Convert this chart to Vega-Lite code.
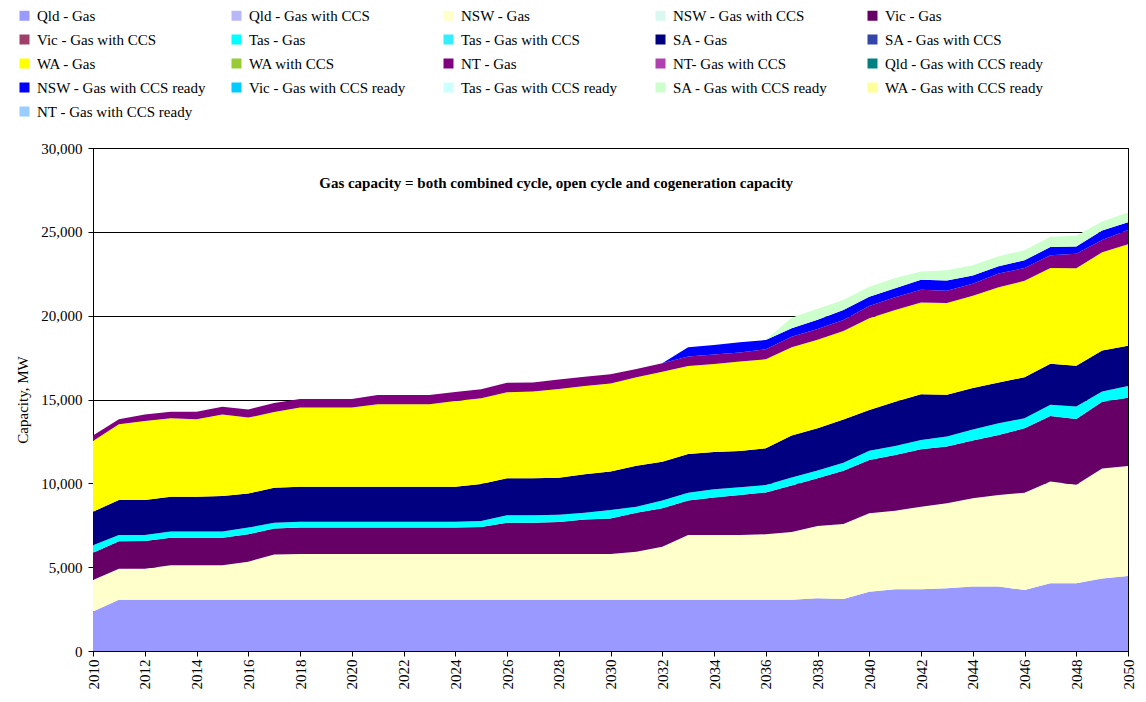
{
"$schema": "https://vega.github.io/schema/vega-lite/v6.json",
"width": 1035, "height": 503,
"autosize": "none",
"padding": {"left": 93, "top": 148, "right": 18, "bottom": 51},
"background": "white",
"config": {"font": "Liberation Serif", "view": {"stroke": "#000", "strokeWidth": 1}},
"datasets": {"cap": [
{"year":2010,"s":"Qld - Gas","mw":2350},{"year":2010,"s":"NSW - Gas","mw":1880},{"year":2010,"s":"Vic - Gas","mw":1630},{"year":2010,"s":"Tas - Gas","mw":440},{"year":2010,"s":"SA - Gas","mw":2010},{"year":2010,"s":"WA - Gas","mw":4210},{"year":2010,"s":"NT - Gas","mw":330},
{"year":2011,"s":"Qld - Gas","mw":3050},{"year":2011,"s":"NSW - Gas","mw":1860},{"year":2011,"s":"Vic - Gas","mw":1630},{"year":2011,"s":"Tas - Gas","mw":380},{"year":2011,"s":"SA - Gas","mw":2090},{"year":2011,"s":"WA - Gas","mw":4510},{"year":2011,"s":"NT - Gas","mw":300},
{"year":2012,"s":"Qld - Gas","mw":3050},{"year":2012,"s":"NSW - Gas","mw":1860},{"year":2012,"s":"Vic - Gas","mw":1650},{"year":2012,"s":"Tas - Gas","mw":360},{"year":2012,"s":"SA - Gas","mw":2090},{"year":2012,"s":"WA - Gas","mw":4710},{"year":2012,"s":"NT - Gas","mw":390},
{"year":2013,"s":"Qld - Gas","mw":3050},{"year":2013,"s":"NSW - Gas","mw":2060},{"year":2013,"s":"Vic - Gas","mw":1650},{"year":2013,"s":"Tas - Gas","mw":360},{"year":2013,"s":"SA - Gas","mw":2080},{"year":2013,"s":"WA - Gas","mw":4680},{"year":2013,"s":"NT - Gas","mw":390},
{"year":2014,"s":"Qld - Gas","mw":3050},{"year":2014,"s":"NSW - Gas","mw":2060},{"year":2014,"s":"Vic - Gas","mw":1650},{"year":2014,"s":"Tas - Gas","mw":360},{"year":2014,"s":"SA - Gas","mw":2080},{"year":2014,"s":"WA - Gas","mw":4620},{"year":2014,"s":"NT - Gas","mw":450},
{"year":2015,"s":"Qld - Gas","mw":3050},{"year":2015,"s":"NSW - Gas","mw":2060},{"year":2015,"s":"Vic - Gas","mw":1650},{"year":2015,"s":"Tas - Gas","mw":360},{"year":2015,"s":"SA - Gas","mw":2120},{"year":2015,"s":"WA - Gas","mw":4870},{"year":2015,"s":"NT - Gas","mw":460},
{"year":2016,"s":"Qld - Gas","mw":3050},{"year":2016,"s":"NSW - Gas","mw":2280},{"year":2016,"s":"Vic - Gas","mw":1630},{"year":2016,"s":"Tas - Gas","mw":400},{"year":2016,"s":"SA - Gas","mw":2040},{"year":2016,"s":"WA - Gas","mw":4520},{"year":2016,"s":"NT - Gas","mw":490},
{"year":2017,"s":"Qld - Gas","mw":3050},{"year":2017,"s":"NSW - Gas","mw":2700},{"year":2017,"s":"Vic - Gas","mw":1550},{"year":2017,"s":"Tas - Gas","mw":350},{"year":2017,"s":"SA - Gas","mw":2090},{"year":2017,"s":"WA - Gas","mw":4510},{"year":2017,"s":"NT - Gas","mw":540},
{"year":2018,"s":"Qld - Gas","mw":3050},{"year":2018,"s":"NSW - Gas","mw":2730},{"year":2018,"s":"Vic - Gas","mw":1580},{"year":2018,"s":"Tas - Gas","mw":350},{"year":2018,"s":"SA - Gas","mw":2090},{"year":2018,"s":"WA - Gas","mw":4730},{"year":2018,"s":"NT - Gas","mw":500},
{"year":2019,"s":"Qld - Gas","mw":3050},{"year":2019,"s":"NSW - Gas","mw":2730},{"year":2019,"s":"Vic - Gas","mw":1580},{"year":2019,"s":"Tas - Gas","mw":350},{"year":2019,"s":"SA - Gas","mw":2090},{"year":2019,"s":"WA - Gas","mw":4730},{"year":2019,"s":"NT - Gas","mw":500},
{"year":2020,"s":"Qld - Gas","mw":3050},{"year":2020,"s":"NSW - Gas","mw":2730},{"year":2020,"s":"Vic - Gas","mw":1580},{"year":2020,"s":"Tas - Gas","mw":350},{"year":2020,"s":"SA - Gas","mw":2090},{"year":2020,"s":"WA - Gas","mw":4730},{"year":2020,"s":"NT - Gas","mw":500},
{"year":2021,"s":"Qld - Gas","mw":3050},{"year":2021,"s":"NSW - Gas","mw":2730},{"year":2021,"s":"Vic - Gas","mw":1580},{"year":2021,"s":"Tas - Gas","mw":350},{"year":2021,"s":"SA - Gas","mw":2090},{"year":2021,"s":"WA - Gas","mw":4910},{"year":2021,"s":"NT - Gas","mw":560},
{"year":2022,"s":"Qld - Gas","mw":3050},{"year":2022,"s":"NSW - Gas","mw":2730},{"year":2022,"s":"Vic - Gas","mw":1580},{"year":2022,"s":"Tas - Gas","mw":350},{"year":2022,"s":"SA - Gas","mw":2090},{"year":2022,"s":"WA - Gas","mw":4910},{"year":2022,"s":"NT - Gas","mw":560},
{"year":2023,"s":"Qld - Gas","mw":3050},{"year":2023,"s":"NSW - Gas","mw":2730},{"year":2023,"s":"Vic - Gas","mw":1580},{"year":2023,"s":"Tas - Gas","mw":350},{"year":2023,"s":"SA - Gas","mw":2090},{"year":2023,"s":"WA - Gas","mw":4910},{"year":2023,"s":"NT - Gas","mw":560},
{"year":2024,"s":"Qld - Gas","mw":3050},{"year":2024,"s":"NSW - Gas","mw":2730},{"year":2024,"s":"Vic - Gas","mw":1580},{"year":2024,"s":"Tas - Gas","mw":350},{"year":2024,"s":"SA - Gas","mw":2090},{"year":2024,"s":"WA - Gas","mw":5110},{"year":2024,"s":"NT - Gas","mw":540},
{"year":2025,"s":"Qld - Gas","mw":3050},{"year":2025,"s":"NSW - Gas","mw":2730},{"year":2025,"s":"Vic - Gas","mw":1620},{"year":2025,"s":"Tas - Gas","mw":350},{"year":2025,"s":"SA - Gas","mw":2210},{"year":2025,"s":"WA - Gas","mw":5110},{"year":2025,"s":"NT - Gas","mw":540},
{"year":2026,"s":"Qld - Gas","mw":3050},{"year":2026,"s":"NSW - Gas","mw":2730},{"year":2026,"s":"Vic - Gas","mw":1870},{"year":2026,"s":"Tas - Gas","mw":440},{"year":2026,"s":"SA - Gas","mw":2210},{"year":2026,"s":"WA - Gas","mw":5130},{"year":2026,"s":"NT - Gas","mw":570},
{"year":2027,"s":"Qld - Gas","mw":3050},{"year":2027,"s":"NSW - Gas","mw":2730},{"year":2027,"s":"Vic - Gas","mw":1870},{"year":2027,"s":"Tas - Gas","mw":440},{"year":2027,"s":"SA - Gas","mw":2210},{"year":2027,"s":"WA - Gas","mw":5170},{"year":2027,"s":"NT - Gas","mw":550},
{"year":2028,"s":"Qld - Gas","mw":3050},{"year":2028,"s":"NSW - Gas","mw":2730},{"year":2028,"s":"Vic - Gas","mw":1920},{"year":2028,"s":"Tas - Gas","mw":430},{"year":2028,"s":"SA - Gas","mw":2210},{"year":2028,"s":"WA - Gas","mw":5290},{"year":2028,"s":"NT - Gas","mw":570},
{"year":2029,"s":"Qld - Gas","mw":3050},{"year":2029,"s":"NSW - Gas","mw":2730},{"year":2029,"s":"Vic - Gas","mw":2070},{"year":2029,"s":"Tas - Gas","mw":400},{"year":2029,"s":"SA - Gas","mw":2290},{"year":2029,"s":"WA - Gas","mw":5260},{"year":2029,"s":"NT - Gas","mw":560},
{"year":2030,"s":"Qld - Gas","mw":3050},{"year":2030,"s":"NSW - Gas","mw":2730},{"year":2030,"s":"Vic - Gas","mw":2130},{"year":2030,"s":"Tas - Gas","mw":500},{"year":2030,"s":"SA - Gas","mw":2290},{"year":2030,"s":"WA - Gas","mw":5260},{"year":2030,"s":"NT - Gas","mw":540},
{"year":2031,"s":"Qld - Gas","mw":3050},{"year":2031,"s":"NSW - Gas","mw":2870},{"year":2031,"s":"Vic - Gas","mw":2330},{"year":2031,"s":"Tas - Gas","mw":360},{"year":2031,"s":"SA - Gas","mw":2440},{"year":2031,"s":"WA - Gas","mw":5270},{"year":2031,"s":"NT - Gas","mw":500},
{"year":2032,"s":"Qld - Gas","mw":3050},{"year":2032,"s":"NSW - Gas","mw":3170},{"year":2032,"s":"Vic - Gas","mw":2290},{"year":2032,"s":"Tas - Gas","mw":460},{"year":2032,"s":"SA - Gas","mw":2320},{"year":2032,"s":"WA - Gas","mw":5370},{"year":2032,"s":"NT - Gas","mw":500},{"year":2032,"s":"NSW - Gas with CCS ready","mw":0},
{"year":2033,"s":"Qld - Gas","mw":3050},{"year":2033,"s":"NSW - Gas","mw":3870},{"year":2033,"s":"Vic - Gas","mw":2050},{"year":2033,"s":"Tas - Gas","mw":470},{"year":2033,"s":"SA - Gas","mw":2310},{"year":2033,"s":"WA - Gas","mw":5250},{"year":2033,"s":"NT - Gas","mw":560},{"year":2033,"s":"NSW - Gas with CCS ready","mw":550},
{"year":2034,"s":"Qld - Gas","mw":3050},{"year":2034,"s":"NSW - Gas","mw":3870},{"year":2034,"s":"Vic - Gas","mw":2230},{"year":2034,"s":"Tas - Gas","mw":490},{"year":2034,"s":"SA - Gas","mw":2230},{"year":2034,"s":"WA - Gas","mw":5250},{"year":2034,"s":"NT - Gas","mw":570},{"year":2034,"s":"NSW - Gas with CCS ready","mw":560},
{"year":2035,"s":"Qld - Gas","mw":3050},{"year":2035,"s":"NSW - Gas","mw":3870},{"year":2035,"s":"Vic - Gas","mw":2380},{"year":2035,"s":"Tas - Gas","mw":460},{"year":2035,"s":"SA - Gas","mw":2170},{"year":2035,"s":"WA - Gas","mw":5330},{"year":2035,"s":"NT - Gas","mw":550},{"year":2035,"s":"NSW - Gas with CCS ready","mw":600},
{"year":2036,"s":"Qld - Gas","mw":3050},{"year":2036,"s":"NSW - Gas","mw":3910},{"year":2036,"s":"Vic - Gas","mw":2500},{"year":2036,"s":"Tas - Gas","mw":440},{"year":2036,"s":"SA - Gas","mw":2190},{"year":2036,"s":"WA - Gas","mw":5310},{"year":2036,"s":"NT - Gas","mw":590},{"year":2036,"s":"NSW - Gas with CCS ready","mw":560},{"year":2036,"s":"SA - Gas with CCS ready","mw":0},
{"year":2037,"s":"Qld - Gas","mw":3050},{"year":2037,"s":"NSW - Gas","mw":4040},{"year":2037,"s":"Vic - Gas","mw":2780},{"year":2037,"s":"Tas - Gas","mw":480},{"year":2037,"s":"SA - Gas","mw":2500},{"year":2037,"s":"WA - Gas","mw":5270},{"year":2037,"s":"NT - Gas","mw":630},{"year":2037,"s":"NSW - Gas with CCS ready","mw":500},{"year":2037,"s":"SA - Gas with CCS ready","mw":620},
{"year":2038,"s":"Qld - Gas","mw":3140},{"year":2038,"s":"NSW - Gas","mw":4320},{"year":2038,"s":"Vic - Gas","mw":2850},{"year":2038,"s":"Tas - Gas","mw":460},{"year":2038,"s":"SA - Gas","mw":2520},{"year":2038,"s":"WA - Gas","mw":5270},{"year":2038,"s":"NT - Gas","mw":640},{"year":2038,"s":"NSW - Gas with CCS ready","mw":560},{"year":2038,"s":"SA - Gas with CCS ready","mw":650},
{"year":2039,"s":"Qld - Gas","mw":3100},{"year":2039,"s":"NSW - Gas","mw":4470},{"year":2039,"s":"Vic - Gas","mw":3180},{"year":2039,"s":"Tas - Gas","mw":480},{"year":2039,"s":"SA - Gas","mw":2580},{"year":2039,"s":"WA - Gas","mw":5270},{"year":2039,"s":"NT - Gas","mw":660},{"year":2039,"s":"NSW - Gas with CCS ready","mw":600},{"year":2039,"s":"SA - Gas with CCS ready","mw":600},
{"year":2040,"s":"Qld - Gas","mw":3540},{"year":2040,"s":"NSW - Gas","mw":4670},{"year":2040,"s":"Vic - Gas","mw":3180},{"year":2040,"s":"Tas - Gas","mw":560},{"year":2040,"s":"SA - Gas","mw":2420},{"year":2040,"s":"WA - Gas","mw":5470},{"year":2040,"s":"NT - Gas","mw":730},{"year":2040,"s":"NSW - Gas with CCS ready","mw":560},{"year":2040,"s":"SA - Gas with CCS ready","mw":600},
{"year":2041,"s":"Qld - Gas","mw":3680},{"year":2041,"s":"NSW - Gas","mw":4690},{"year":2041,"s":"Vic - Gas","mw":3320},{"year":2041,"s":"Tas - Gas","mw":540},{"year":2041,"s":"SA - Gas","mw":2640},{"year":2041,"s":"WA - Gas","mw":5470},{"year":2041,"s":"NT - Gas","mw":760},{"year":2041,"s":"NSW - Gas with CCS ready","mw":540},{"year":2041,"s":"SA - Gas with CCS ready","mw":600},
{"year":2042,"s":"Qld - Gas","mw":3680},{"year":2042,"s":"NSW - Gas","mw":4930},{"year":2042,"s":"Vic - Gas","mw":3420},{"year":2042,"s":"Tas - Gas","mw":560},{"year":2042,"s":"SA - Gas","mw":2720},{"year":2042,"s":"WA - Gas","mw":5470},{"year":2042,"s":"NT - Gas","mw":760},{"year":2042,"s":"NSW - Gas with CCS ready","mw":600},{"year":2042,"s":"SA - Gas with CCS ready","mw":500},
{"year":2043,"s":"Qld - Gas","mw":3740},{"year":2043,"s":"NSW - Gas","mw":5070},{"year":2043,"s":"Vic - Gas","mw":3380},{"year":2043,"s":"Tas - Gas","mw":600},{"year":2043,"s":"SA - Gas","mw":2490},{"year":2043,"s":"WA - Gas","mw":5470},{"year":2043,"s":"NT - Gas","mw":740},{"year":2043,"s":"NSW - Gas with CCS ready","mw":600},{"year":2043,"s":"SA - Gas with CCS ready","mw":620},
{"year":2044,"s":"Qld - Gas","mw":3840},{"year":2044,"s":"NSW - Gas","mw":5270},{"year":2044,"s":"Vic - Gas","mw":3440},{"year":2044,"s":"Tas - Gas","mw":660},{"year":2044,"s":"SA - Gas","mw":2470},{"year":2044,"s":"WA - Gas","mw":5510},{"year":2044,"s":"NT - Gas","mw":720},{"year":2044,"s":"NSW - Gas with CCS ready","mw":490},{"year":2044,"s":"SA - Gas with CCS ready","mw":610},
{"year":2045,"s":"Qld - Gas","mw":3840},{"year":2045,"s":"NSW - Gas","mw":5470},{"year":2045,"s":"Vic - Gas","mw":3580},{"year":2045,"s":"Tas - Gas","mw":700},{"year":2045,"s":"SA - Gas","mw":2430},{"year":2045,"s":"WA - Gas","mw":5670},{"year":2045,"s":"NT - Gas","mw":820},{"year":2045,"s":"NSW - Gas with CCS ready","mw":440},{"year":2045,"s":"SA - Gas with CCS ready","mw":600},
{"year":2046,"s":"Qld - Gas","mw":3640},{"year":2046,"s":"NSW - Gas","mw":5800},{"year":2046,"s":"Vic - Gas","mw":3840},{"year":2046,"s":"Tas - Gas","mw":600},{"year":2046,"s":"SA - Gas","mw":2450},{"year":2046,"s":"WA - Gas","mw":5750},{"year":2046,"s":"NT - Gas","mw":760},{"year":2046,"s":"NSW - Gas with CCS ready","mw":460},{"year":2046,"s":"SA - Gas with CCS ready","mw":600},
{"year":2047,"s":"Qld - Gas","mw":4040},{"year":2047,"s":"NSW - Gas","mw":6070},{"year":2047,"s":"Vic - Gas","mw":3910},{"year":2047,"s":"Tas - Gas","mw":660},{"year":2047,"s":"SA - Gas","mw":2450},{"year":2047,"s":"WA - Gas","mw":5710},{"year":2047,"s":"NT - Gas","mw":760},{"year":2047,"s":"NSW - Gas with CCS ready","mw":500},{"year":2047,"s":"SA - Gas with CCS ready","mw":600},
{"year":2048,"s":"Qld - Gas","mw":4040},{"year":2048,"s":"NSW - Gas","mw":5870},{"year":2048,"s":"Vic - Gas","mw":3920},{"year":2048,"s":"Tas - Gas","mw":750},{"year":2048,"s":"SA - Gas","mw":2430},{"year":2048,"s":"WA - Gas","mw":5820},{"year":2048,"s":"NT - Gas","mw":860},{"year":2048,"s":"NSW - Gas with CCS ready","mw":440},{"year":2048,"s":"SA - Gas with CCS ready","mw":640},
{"year":2049,"s":"Qld - Gas","mw":4330},{"year":2049,"s":"NSW - Gas","mw":6560},{"year":2049,"s":"Vic - Gas","mw":3980},{"year":2049,"s":"Tas - Gas","mw":600},{"year":2049,"s":"SA - Gas","mw":2450},{"year":2049,"s":"WA - Gas","mw":5860},{"year":2049,"s":"NT - Gas","mw":740},{"year":2049,"s":"NSW - Gas with CCS ready","mw":560},{"year":2049,"s":"SA - Gas with CCS ready","mw":540},
{"year":2050,"s":"Qld - Gas","mw":4470},{"year":2050,"s":"NSW - Gas","mw":6560},{"year":2050,"s":"Vic - Gas","mw":4080},{"year":2050,"s":"Tas - Gas","mw":700},{"year":2050,"s":"SA - Gas","mw":2390},{"year":2050,"s":"WA - Gas","mw":6060},{"year":2050,"s":"NT - Gas","mw":850},{"year":2050,"s":"NSW - Gas with CCS ready","mw":460},{"year":2050,"s":"SA - Gas with CCS ready","mw":580}
]},
"layer": [
{
"data": {"name": "cap"},
"transform": [{"calculate": "indexof(['Qld - Gas','NSW - Gas','Vic - Gas','Tas - Gas','SA - Gas','WA - Gas','NT - Gas','NSW - Gas with CCS ready','SA - Gas with CCS ready'], datum.s)", "as": "ord"}],
"mark": {"type": "area", "opacity": 1},
"encoding": {
"x": {"field": "year", "type": "quantitative",
 "scale": {"domain": [2010, 2050], "nice": false, "zero": false},
 "axis": {"title": null, "values": [2010,2011,2012,2013,2014,2015,2016,2017,2018,2019,2020,2021,2022,2023,2024,2025,2026,2027,2028,2029,2030,2031,2032,2033,2034,2035,2036,2037,2038,2039,2040,2041,2042,2043,2044,2045,2046,2047,2048,2049,2050],
  "format": "d", "labelExpr": "datum.value % 2 === 0 ? datum.label : ''", "labelAngle": 270, "labelAlign": "right", "labelBaseline": "middle",
  "labelFontSize": 15, "labelFont": "Liberation Serif", "labelColor": "#000", "labelPadding": 3, "labelFlush": false, "labelOverlap": false,
  "tickSize": 5, "tickColor": "#000", "domainColor": "#000", "grid": false}},
"y": {"field": "mw", "type": "quantitative", "stack": "zero",
 "scale": {"domain": [0, 30000], "nice": false},
 "axis": {"title": "Capacity, MW", "titleFontSize": 15, "titleFontWeight": "normal", "titleFont": "Liberation Serif", "titleColor": "#000", "titlePadding": 10,
  "values": [0,5000,10000,15000,20000,25000,30000], "format": ",.0f", "labelFontSize": 15, "labelFont": "Liberation Serif", "labelColor": "#000", "labelPadding": 6,
  "tickSize": 5, "tickColor": "#000", "domainColor": "#000", "grid": true, "gridColor": "#000", "gridWidth": 1, "gridOpacity": 1}},
"color": {"field": "s", "type": "nominal",
 "scale": {"domain": ["Qld - Gas","Qld - Gas with CCS","NSW - Gas","NSW - Gas with CCS","Vic - Gas","Vic - Gas with CCS","Tas - Gas","Tas - Gas with CCS","SA - Gas","SA - Gas with CCS","WA - Gas","WA with CCS","NT - Gas","NT- Gas with CCS","Qld - Gas with CCS ready","NSW - Gas with CCS ready","Vic - Gas with CCS ready","Tas - Gas with CCS ready","SA - Gas with CCS ready","WA - Gas with CCS ready","NT - Gas with CCS ready"],
  "range": ["#9999FF","#B8B8F8","#FFFFCC","#D8F8F0","#660066","#A0406A","#00FFFF","#33EEFF","#000080","#3344AA","#FFFF00","#99CC33","#800080","#B040B0","#008080","#0000FF","#00CCFF","#CCFFFF","#CCFFCC","#FFFF99","#99CCFF"]},
 "legend": {"orient": "none", "legendX": -76, "legendY": -140, "columns": 5, "direction": "horizontal", "title": null,
  "symbolType": "square", "symbolSize": 100, "symbolStrokeWidth": 0, "symbolOpacity": 1,
  "labelFontSize": 15, "labelFont": "Liberation Serif", "labelColor": "#000", "labelLimit": 300, "labelOffset": 5,
  "gridAlign": "all", "columnPadding": 23, "rowPadding": 8, "padding": 0}},
"order": {"field": "ord", "type": "quantitative"}
}
},
{
"data": {"values": [{}]},
"mark": {"type": "text", "font": "Liberation Serif", "fontSize": 15, "fontWeight": "bold", "color": "#000", "align": "center", "baseline": "middle"},
"encoding": {
"x": {"datum": 2027.9, "type": "quantitative"},
"y": {"datum": 27900, "type": "quantitative"},
"text": {"value": "Gas capacity = both combined cycle, open cycle and cogeneration capacity"}
}
}
]
}
